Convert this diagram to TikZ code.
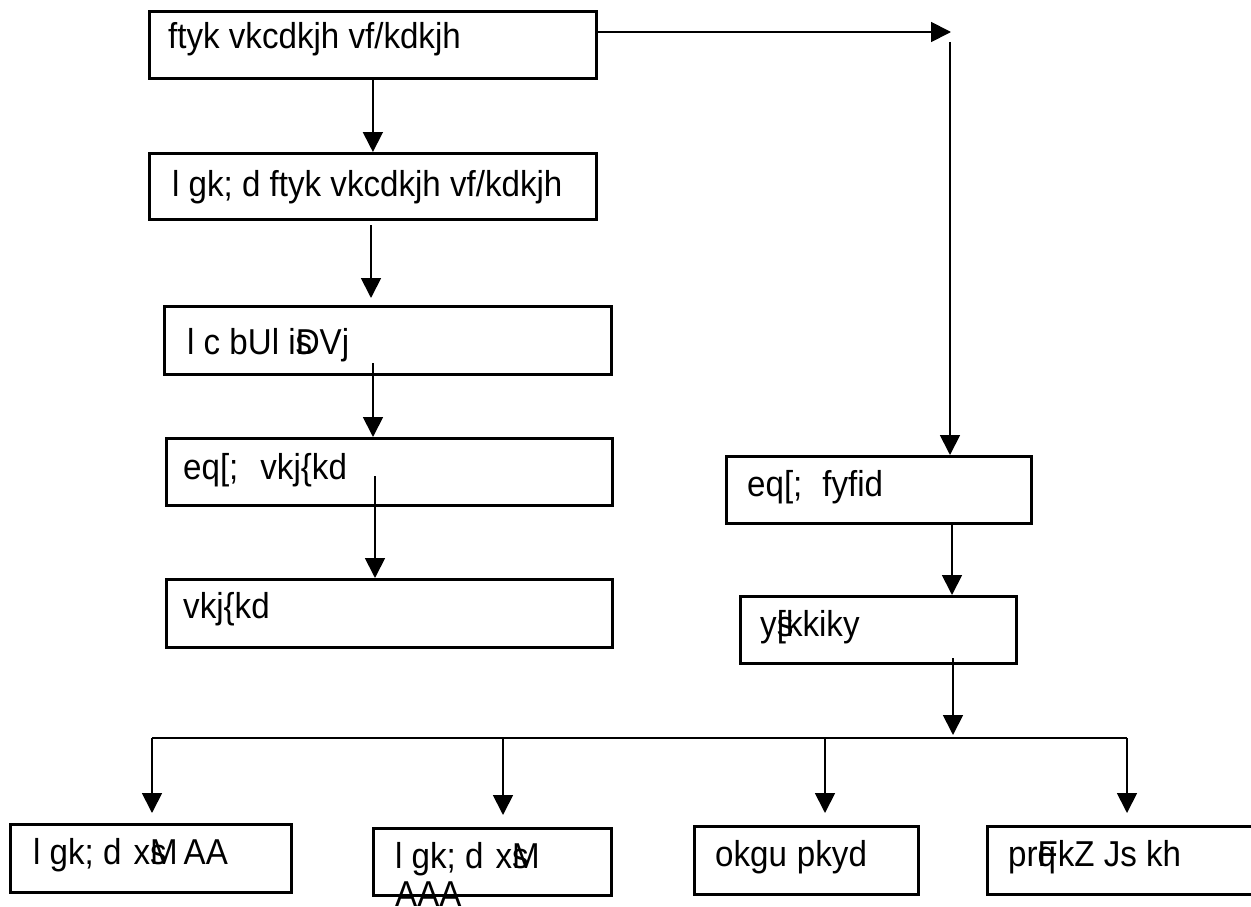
\documentclass[tikz,border=0pt]{standalone}
\usepackage{fontspec}
\setmainfont[FakeStretch=0.92]{Liberation Sans}
\usetikzlibrary{arrows.meta}
\begin{document}
\begin{tikzpicture}[x=1pt,y=-1pt,
  box/.style={draw,line width=2.8pt,inner sep=0pt,anchor=north west},
  lbl/.style={anchor=base west,inner sep=0pt,font=\fontsize{36}{38}\selectfont},
  arr/.style={line width=1.8pt,-{Triangle[length=20pt,width=20pt]}},
  ln/.style={line width=1.8pt}]
\useasboundingbox (0,0) rectangle (1251,907);
% boxes
\node[box,minimum width=447pt,minimum height=67pt] (b1) at (148,10) {};
\node[box,minimum width=447pt,minimum height=66pt] (b2) at (148,152) {};
\node[box,minimum width=447pt,minimum height=68pt] (b3) at (163,305) {};
\node[box,minimum width=446pt,minimum height=67pt] (b4) at (165,437) {};
\node[box,minimum width=446pt,minimum height=68pt] (b5) at (165,578) {};
\node[box,minimum width=305pt,minimum height=67pt] (b6) at (725,455) {};
\node[box,minimum width=276pt,minimum height=67pt] (b7) at (739,595) {};
\node[box,minimum width=281pt,minimum height=68pt] (b8) at (9,823) {};
\node[box,minimum width=238pt,minimum height=67pt] (b9) at (372,827) {};
\node[box,minimum width=224pt,minimum height=68pt] (b10) at (693,825) {};
\node[box,minimum width=290pt,minimum height=68pt] (b11) at (986,825) {};
% labels
\node[lbl] (t1) at (168,49) {ftyk vkcdkjh vf/kdkjh};
\node[lbl] (t2) at (172,196) {l gk; d ftyk vkcdkjh vf/kdkjh};
\node[lbl] (t3) at (187,354) {l c bUl i\rlap{s}DVj};
\node[lbl] (t4) at (183,479) {eq[;\hspace{22pt}vkj\{kd};
\node[lbl] (t5) at (183,618) {vkj\{kd};
\node[lbl] (t6) at (747,496) {eq[;\hspace{20pt}fyfid};
\node[lbl] (t7) at (760,636) {y\rlap{s}[kkiky};
\node[lbl] (t8) at (33,864) {l gk; d\hspace{12pt}x\rlap{s}M\hspace{6pt}AA};
\node[lbl] (t9) at (395,868) {\begin{tabular}[t]{@{}l@{}}l gk; d\hspace{12pt}x\rlap{s}M\\AAA\end{tabular}};
\node[lbl] (t10) at (715,866) {okgu\hspace{10pt}pkyd};
\node[lbl] (t11) at (1008,866) {pr\rlap{q}FkZ Js kh};
% connector coordinates
\coordinate (c23) at (371,225);
\coordinate (c34) at (373,363);
\coordinate (c45) at (375,476);
\coordinate (cr) at (595,32);
\coordinate (ce) at (951,32);
\coordinate (cv) at (950,42);
\coordinate (c67) at (952,525);
\coordinate (c7) at (953,658);
\coordinate (c7e) at (953,735);
\coordinate (hl) at (152,738);
\coordinate (hr) at (1127,738);
\coordinate (h2) at (503,738);
\coordinate (h3) at (825,738);
% connectors
\draw[arr] (b1.south) -- (b2.north);
\draw[arr,shorten >=7pt] (c23) -- (c23 |- b3.north);
\draw[arr] (c34) -- (c34 |- b4.north);
\draw[arr] (c45) -- (c45 |- b5.north);
\draw[arr] (cr) -- (ce);
\draw[arr] (cv) -- (cv |- b6.north);
\draw[arr] (c67) -- (c67 |- b7.north);
\draw[arr] (c7) -- (c7e);
\draw[ln] (hl) -- (hr);
\draw[arr,shorten >=10pt] (hl) -- (hl |- b8.north);
\draw[arr,shorten >=12pt] (h2) -- (h2 |- b9.north);
\draw[arr,shorten >=12pt] (h3) -- (h3 |- b10.north);
\draw[arr,shorten >=12pt] (hr) -- (hr |- b11.north);
\end{tikzpicture}
\end{document}
